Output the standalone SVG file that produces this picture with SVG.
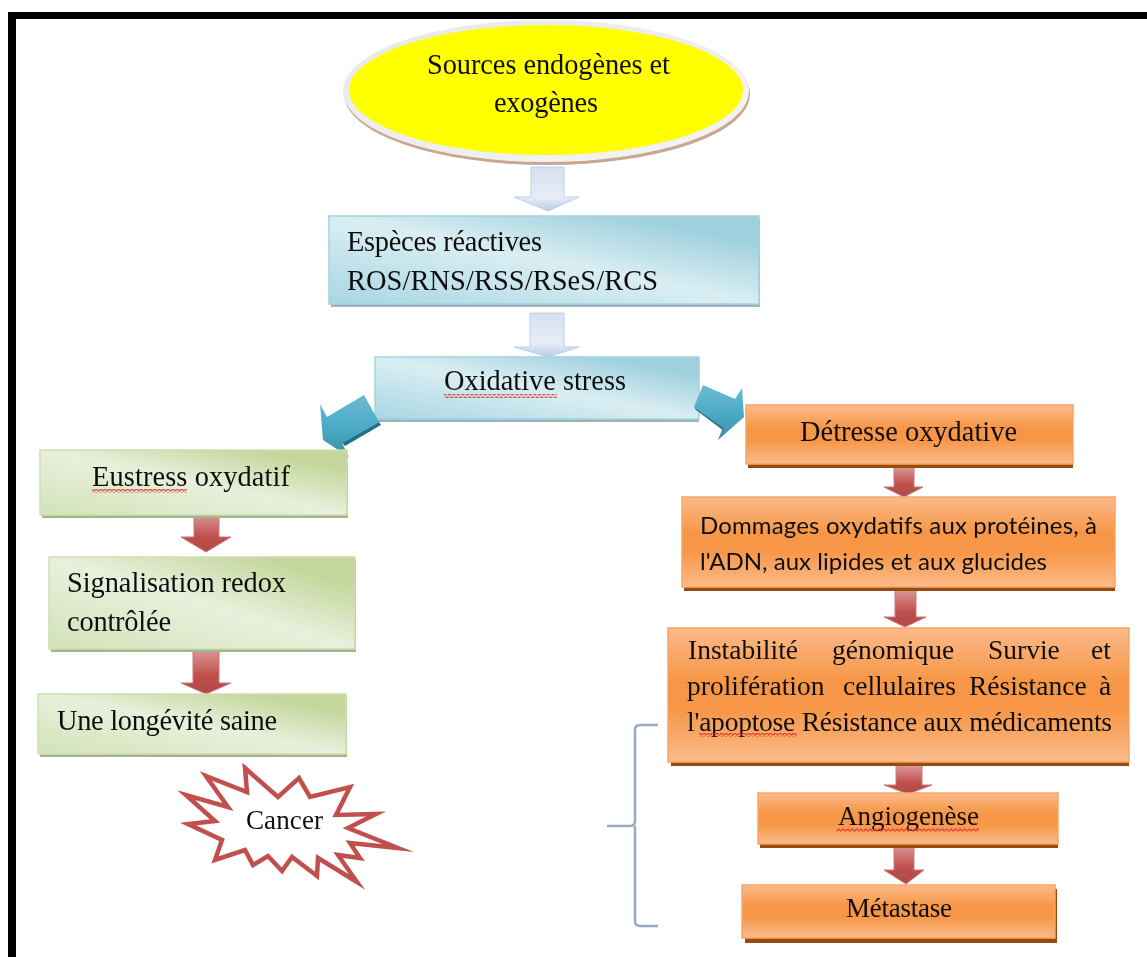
<svg xmlns="http://www.w3.org/2000/svg" width="1147" height="957" viewBox="0 0 1147 957">
<style>
text{font-family:"Liberation Serif","Times New Roman",serif;font-size:28.4px;fill:#111}
.cal{font-family:Lato,"Liberation Sans",sans-serif;font-size:24px}
.blue{fill:url(#gBlue);stroke:#a3d3e0;stroke-width:1.5}
.green{fill:url(#gGreen2);stroke:#cfdeb3;stroke-width:1.5}
.orange{fill:url(#gOrange);stroke:#f9a565;stroke-width:1.5}
.sb{fill:#9db3ba}.sg{fill:#a4b38a}.so{fill:#984c0c}
.au{fill:url(#gLight);stroke:#bccfe6;stroke-width:1}
.ar{fill:url(#gRed);stroke:#c9787a;stroke-width:1}
.at{fill:url(#gTeal)}
.sq{fill:url(#wave)}
</style>
<defs>
<filter id="soft" x="-2%" y="-2%" width="104%" height="104%"><feGaussianBlur stdDeviation="0.45"/></filter>
<linearGradient id="gBlue" x1="0" y1="1" x2="1" y2="0"><stop offset="0" stop-color="#a8d6e3"/><stop offset=".5" stop-color="#daeef3"/><stop offset=".85" stop-color="#9fd0de"/><stop offset="1" stop-color="#9fd0de"/></linearGradient>
<linearGradient id="gGreen2" x1="0" y1="1" x2="1" y2="0"><stop offset="0" stop-color="#d3e2b8"/><stop offset=".5" stop-color="#e8f0dc"/><stop offset=".85" stop-color="#c4d69c"/></linearGradient>
<linearGradient id="gOrange" x1="0" y1="0" x2="0" y2="1"><stop offset="0" stop-color="#fbbb8b"/><stop offset=".4" stop-color="#f79646"/><stop offset=".6" stop-color="#f79646"/><stop offset="1" stop-color="#fbbb8b"/></linearGradient>
<linearGradient id="gLight" x1="0" y1="0" x2="0" y2="1"><stop offset="0" stop-color="#d5e0f0"/><stop offset=".7" stop-color="#e6edf6"/><stop offset="1" stop-color="#b8cce4"/></linearGradient>
<linearGradient id="gRed" x1="0" y1="0" x2="0" y2="1"><stop offset="0" stop-color="#dc9c9a"/><stop offset=".6" stop-color="#c0504d"/><stop offset="1" stop-color="#b04a47"/></linearGradient>
<linearGradient id="gTeal" x1="0" y1="0" x2="0" y2="1"><stop offset="0" stop-color="#6fb9d0"/><stop offset=".5" stop-color="#4bacc6"/><stop offset="1" stop-color="#3b8ea6"/></linearGradient>
<linearGradient id="gRing" x1="0" y1="0" x2="1" y2="1"><stop offset="0" stop-color="#e8e8e8"/><stop offset="1" stop-color="#f4f4f4"/></linearGradient>
<pattern id="wave" width="4.5" height="4" patternUnits="userSpaceOnUse"><path d="M0 3L1.1 1L2.2 1L3.4 3L4.5 3" fill="none" stroke="#e0342c" stroke-width="1.2"/></pattern>
</defs>
<rect width="1147" height="957" fill="#ffffff"/>
<g filter="url(#soft)">
<g id="frame"><rect x="8" y="12" width="1139" height="7" fill="#000"/><rect x="8" y="12" width="8" height="945" fill="#000"/></g>

<g id="n-oxidative">
<rect class="sb" x="377" y="360" width="322" height="62"/>
<rect class="blue" x="375" y="357" width="324" height="62"/>
<text x="444" y="390" textLength="182">Oxidative stress</text>
<rect class="sq" x="444" y="394" width="113" height="4"/>
</g>

<g id="connectors">
<polygon class="au" points="531,167 564,167 564,197 579,197 548,211 514,197 531,197"/>
<polygon class="au" points="530,313 564,313 564,347 579,347 548,357 514,347 530,347"/>
<polygon class="at" points="364,395 379,422 342,443 349,457 323,440 320,404 327,417"/>
<polygon fill="#22708a" points="379,422 381,425 345,446 342,443"/>
<polygon class="at" points="703,385 694,407 723,427 718,440 744,417 742,388 735,399"/>
<polygon fill="#2a7389" points="694,407 696,410 724,431 723,427"/>
<polygon class="ar" points="194,513 219,513 219,537 231,537 206,552 181,537 194,537"/>
<polygon class="ar" points="193,648 219,648 219,683 231,683 206,694 181,683 193,683"/>
<polygon class="ar" points="894,466 914,466 914,487 923,487 904,497 884,487 894,487"/>
<polygon class="ar" points="895,589 916,589 916,617 926,617 905,627 884,617 895,617"/>
<polygon class="ar" points="896,765 922,765 922,785 932,785 908,794 884,785 896,785"/>
<polygon class="ar" points="894,843 914,843 914,870 924,870 906,884 884,870 894,870"/>
<path id="bracket" d="M658 725H640Q635 725 635 730V821Q635 826 630 826H607M635 826V921Q635 926 640 926H658" fill="none" stroke="#9aa8c8" stroke-width="2.5"/>
</g>

<g id="n-sources">
<ellipse cx="547" cy="94" rx="203" ry="71" fill="#c9a78f"/>
<ellipse cx="546" cy="91" rx="203" ry="71" fill="url(#gRing)"/>
<ellipse cx="546" cy="90" rx="197" ry="65" fill="#ffff00"/>
<text x="427" y="74" textLength="243">Sources endogènes et</text>
<text x="494" y="112" textLength="104">exogènes</text>
</g>

<g id="n-especes">
<rect class="sb" x="331" y="219" width="429" height="88"/>
<rect class="blue" x="329" y="216" width="430" height="88"/>
<text x="347" y="251" textLength="195">Espèces réactives</text>
<text x="347" y="290" textLength="311">ROS/RNS/RSS/RSeS/RCS</text>
</g>

<g id="n-eustress">
<rect class="sg" x="42" y="453" width="306" height="65"/>
<rect class="green" x="40" y="450" width="307" height="65"/>
<text x="92" y="486" textLength="198">Eustress oxydatif</text>
<rect class="sq" x="92" y="489" width="95" height="4"/>
</g>

<g id="n-signal">
<rect class="sg" x="51" y="560" width="305" height="92"/>
<rect class="green" x="49" y="557" width="306" height="92"/>
<text x="67" y="592" textLength="219">Signalisation redox</text>
<text x="67" y="631" textLength="104">contrôlée</text>
</g>

<g id="n-longevite">
<rect class="sg" x="40" y="697" width="307" height="60"/>
<rect class="green" x="38" y="694" width="308" height="60"/>
<text x="57" y="730" textLength="220">Une longévité saine</text>
</g>

<g id="n-cancer">
<polygon fill="#fff" stroke="#c0504d" stroke-width="4.5" stroke-miterlimit="10" points="245,768 278,797 299,778 310,797 350,787 336,815 376,814 348,828 398,848 350,843 360,858 338,855 357,882 318,858 317,876 292,857 282,871 268,856 253,865 245,850 215,860 222,840 188,824 215,821 186,795 228,807 206,776 247,792"/>
<text x="246" y="829" textLength="77" style="font-size:27px">Cancer</text>
</g>

<g id="n-detresse">
<rect class="so" x="748" y="408" width="325" height="60"/>
<rect class="orange" x="746" y="405" width="327" height="59"/>
<text x="800" y="441" textLength="217">Détresse oxydative</text>
</g>

<g id="n-dommages">
<rect class="so" x="684" y="500" width="431" height="91"/>
<rect class="orange" x="682" y="497" width="433" height="90"/>
<text class="cal" x="700" y="534" textLength="397">Dommages oxydatifs aux protéines, à</text>
<text class="cal" x="700" y="570" textLength="347">l'ADN, aux lipides et aux glucides</text>
</g>

<g id="n-instabilite">
<rect class="so" x="671" y="631" width="458" height="135"/>
<rect class="orange" x="668" y="628" width="461" height="134"/>
<text style="font-size:27.5px" y="659"><tspan x="688">Instabilité</tspan><tspan x="832">génomique</tspan><tspan x="988">Survie</tspan><tspan x="1091">et</tspan></text>
<text style="font-size:27.5px" y="695"><tspan x="687">prolifération</tspan><tspan x="843">cellulaires</tspan><tspan x="969">Résistance</tspan><tspan x="1099">à</tspan></text>
<text style="font-size:27.5px" x="687" y="731" textLength="425">l'apoptose Résistance aux médicaments</text>
<rect class="sq" x="699" y="733" width="98" height="4"/>
</g>

<g id="n-angio">
<rect class="so" x="760" y="797" width="298" height="51"/>
<rect class="orange" x="758" y="793" width="300" height="51"/>
<text x="838" y="825" textLength="141" style="font-size:27px">Angiogenèse</text>
<rect class="sq" x="836" y="828" width="143" height="4"/>
</g>

<g id="n-metastase">
<rect class="so" x="745" y="889" width="312" height="54"/>
<rect class="orange" x="742" y="885" width="313" height="53"/>
<text x="846" y="917" textLength="106" style="font-size:27px">Métastase</text>
</g>
</g>
</svg>
